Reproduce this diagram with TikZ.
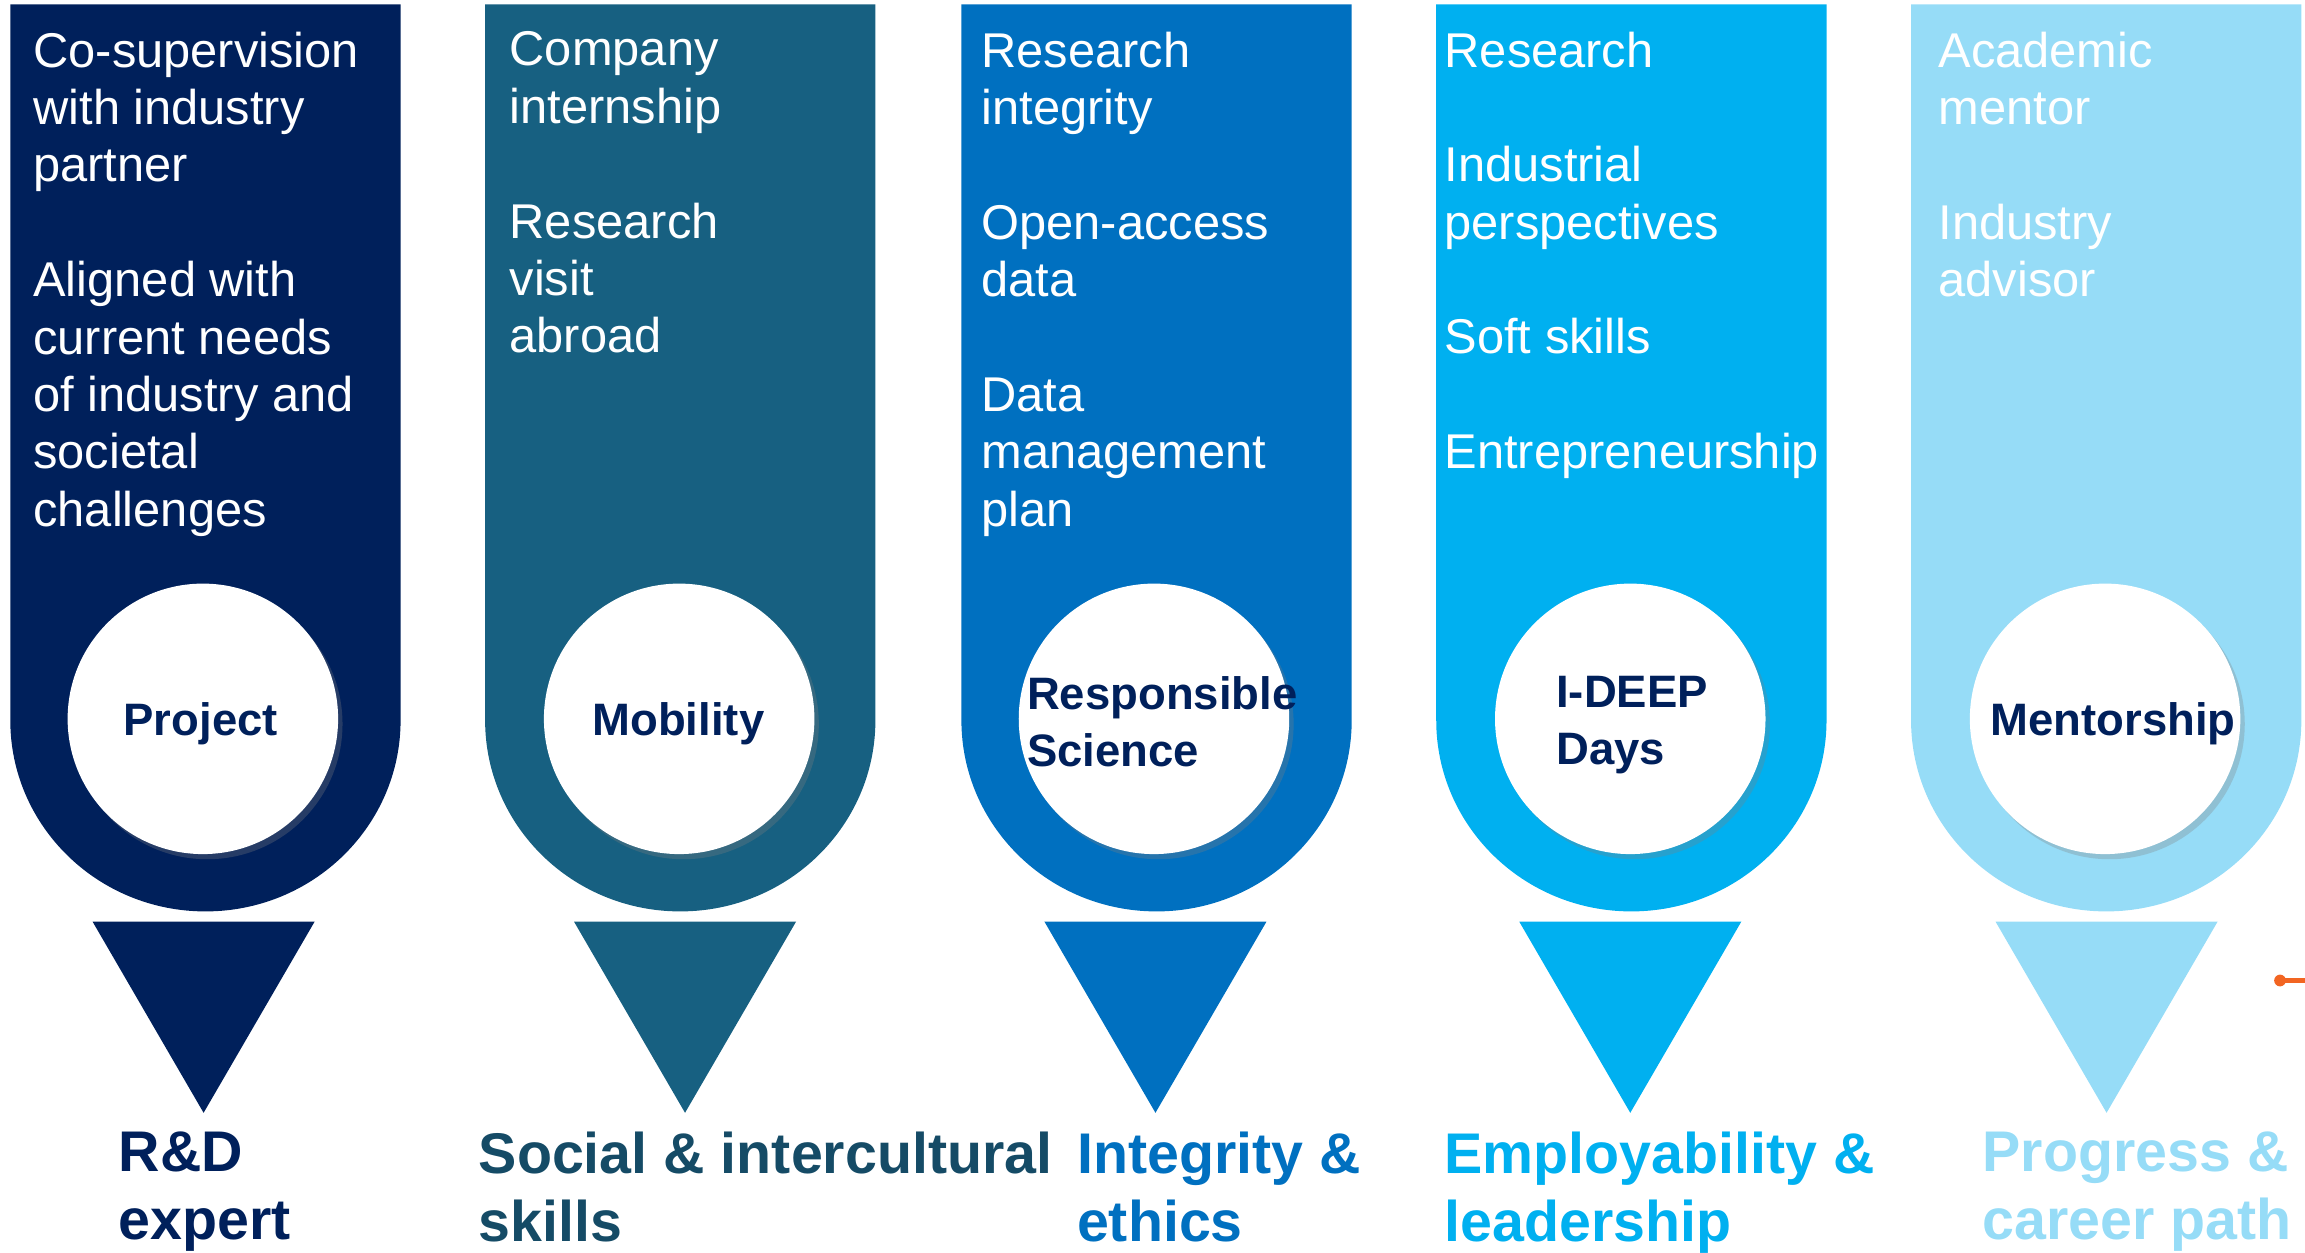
\documentclass[tikz,border=0pt]{standalone}
\usepackage{fontspec}
\setmainfont{Liberation Sans}
\usepackage{xcolor}
\usepackage{tikz}
\usetikzlibrary{shapes,shadows,calc}

\definecolor{navy}{RGB}{0,32,91}
\definecolor{teal}{RGB}{23,96,129}
\definecolor{tealdark}{RGB}{21,75,102}
\definecolor{midblue}{RGB}{0,112,192}
\definecolor{skyblue}{RGB}{0,176,240}
\definecolor{paleblue}{RGB}{150,220,247}
\definecolor{stuborange}{RGB}{242,101,34}

\begin{document}
\begin{tikzpicture}[
  listtxt/.style={anchor=north west, inner sep=0pt, align=left, text=white,
    font=\fontsize{9.45}{11.1}\selectfont},
  hub/.style={circle, minimum size=1.84cm, inner sep=0pt, fill=white,
    drop shadow={shadow xshift=0.03cm, shadow yshift=-0.035cm, opacity=0.3}},
  hubtxt/.style={inner sep=0pt, align=left, text=navy,
    font=\bfseries\fontsize{8.8}{11}\selectfont},
  goal/.style={anchor=north west, inner sep=0pt, align=left,
    font=\bfseries\fontsize{11.1}{13.3}\selectfont}]
\useasboundingbox (0,0) rectangle (15.68,-8.52);

% the five columns
\fill[navy]     (0.07,-0.03)  -- (0.07,-4.90)  arc[start angle=180, end angle=360, x radius=1.3275, y radius=1.30] -- (2.725,-0.03) -- cycle;
\fill[teal]     (3.30,-0.03)  -- (3.30,-4.90)  arc[start angle=180, end angle=360, x radius=1.3275, y radius=1.30] -- (5.955,-0.03) -- cycle;
\fill[midblue]  (6.54,-0.03)  -- (6.54,-4.90)  arc[start angle=180, end angle=360, x radius=1.3275, y radius=1.30] -- (9.195,-0.03) -- cycle;
\fill[skyblue]  (9.77,-0.03)  -- (9.77,-4.90)  arc[start angle=180, end angle=360, x radius=1.3275, y radius=1.30] -- (12.425,-0.03) -- cycle;
\fill[paleblue] (13.00,-0.03) -- (13.00,-4.90) arc[start angle=180, end angle=360, x radius=1.3275, y radius=1.30] -- (15.655,-0.03) -- cycle;

% text in the columns
\node[listtxt] (projtxt) at (0.22,-0.21) {Co-supervision\\with industry\\partner\\[0.39cm]Aligned with\\current needs\\of industry and\\societal\\challenges};
\node[listtxt] (mobtxt) at (3.46,-0.21) {Company\\internship\\[0.39cm]Research\\visit\\abroad};
\node[listtxt] (resptxt) at (6.67,-0.21) {Research\\integrity\\[0.39cm]Open-access\\data\\[0.39cm]Data\\management\\plan};
\node[listtxt] (ideeptxt) at (9.82,-0.21) {Research\\[0.39cm]Industrial\\perspectives\\[0.39cm]Soft skills\\[0.39cm]Entrepreneurship};
\node[listtxt] (menttxt) at (13.18,-0.21) {Academic\\mentor\\[0.39cm]Industry\\advisor};

% circles
\node[hub] (proj) at (1.38,-4.89) {};
\node[hubtxt] (projlbl) at (1.365,-4.92) {Project};
\node[hub] (mob) at (4.62,-4.89) {};
\node[hubtxt] (moblbl) at (4.615,-4.92) {Mobility};
\node[hub] (resp) at (7.85,-4.89) {};
\node[hubtxt, anchor=west] (resplbl) at (6.98,-4.91) {Responsible\\Science};
\node[hub] (ideep) at (11.09,-4.89) {};
\node[hubtxt, anchor=west] (ideeplbl) at (10.58,-4.935) {I-DEEP\\Days};
\node[hub] (ment) at (14.32,-4.89) {};
\node[hubtxt] (mentlbl) at (14.375,-4.92) {Mentorship};

% triangles
\fill[navy]     (0.63,-6.27)  -- (2.14,-6.27)  -- (1.385,-7.57) -- cycle;
\fill[teal]     (3.905,-6.27) -- (5.415,-6.27) -- (4.66,-7.57) -- cycle;
\fill[midblue]  (7.105,-6.27) -- (8.615,-6.27) -- (7.86,-7.57) -- cycle;
\fill[skyblue]  (10.335,-6.27) -- (11.845,-6.27) -- (11.09,-7.57) -- cycle;
\fill[paleblue] (13.575,-6.27) -- (15.085,-6.27) -- (14.33,-7.57) -- cycle;

% outcomes
\node[goal, text=navy] (rd) at (0.80,-7.69) {R\&D\\expert};
\node[goal, text=tealdark] (social) at (3.25,-7.69) {Social \& intercultural\\skills};
\node[goal, text=midblue] (integ) at (7.32,-7.69) {Integrity \&\\ethics};
\node[goal, text=skyblue] (employ) at (9.82,-7.69) {Employability \&\\leadership};
\node[goal, text=paleblue] (prog) at (13.48,-7.69) {Progress \&\\career path};

% stub at the right edge
\coordinate (stub) at (15.51,-6.67);
\coordinate (stubend) at (15.70,-6.67);
\draw[stuborange, line width=1.1pt] (stub) -- (stubend);
\fill[stuborange] (stub) circle (0.04);
\end{tikzpicture}
\end{document}
